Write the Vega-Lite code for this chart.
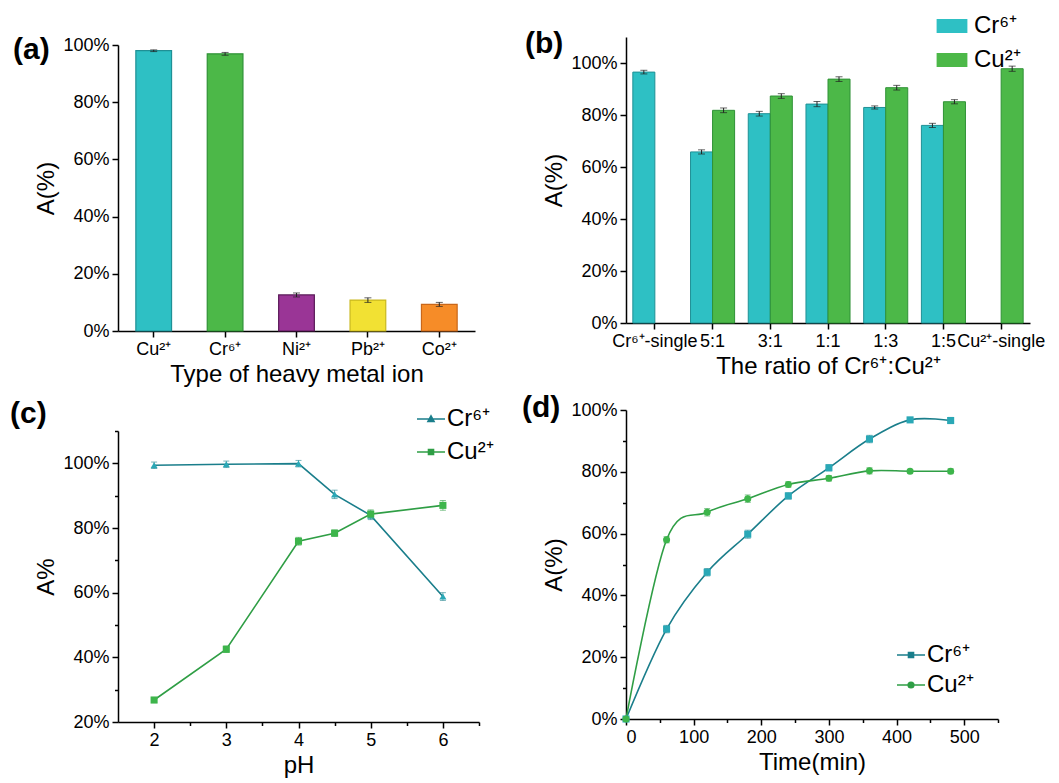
{
  "$schema": "https://vega.github.io/schema/vega-lite/v6.json",
  "padding": {"left": 10, "top": 12, "right": 5, "bottom": 5},
  "columns": 2,
  "align": "each",
  "spacing": {"row": 7, "column": 28},
  "resolve": {"scale": {"fill": "independent", "stroke": "independent", "color": "independent", "shape": "independent", "x": "independent", "y": "independent"}, "legend": {"fill": "independent", "color": "independent", "stroke": "independent", "shape": "independent"}},
  "config": {
    "view": {"stroke": null},
    "font": "Liberation Sans",
    "axis": {"labelFont": "Liberation Sans", "labelFontSize": 18, "labelColor": "#000", "titleFont": "Liberation Sans", "titleFontSize": 24, "titleFontWeight": "normal", "titleColor": "#000", "domainColor": "#000", "domainWidth": 1.5, "tickColor": "#000", "tickWidth": 1.5, "grid": false, "labelPadding": 3},
    "title": {"font": "Liberation Sans", "fontSize": 30, "fontWeight": "bold", "anchor": "start", "frame": "group", "color": "#000", "baseline": "top", "offset": 0},
    "legend": {"labelFont": "Liberation Sans", "labelFontSize": 24, "labelColor": "#000", "title": null}
  },
  "concat": [
    {
      "width": 357, "height": 294,
      "title": {"text": "(a)", "dx": -105, "dy": 33},
      "data": {"values": [
        {"ion": "Cu²⁺", "A": 98.0, "err": 0.3},
        {"ion": "Cr⁶⁺", "A": 96.9, "err": 0.5},
        {"ion": "Ni²⁺", "A": 12.6, "err": 0.7},
        {"ion": "Pb²⁺", "A": 10.8, "err": 0.8},
        {"ion": "Co²⁺", "A": 9.3, "err": 0.7}
      ]},
      "layer": [
        {
          "mark": {"type": "bar", "strokeWidth": 1.2},
          "encoding": {
            "x": {"field": "ion", "type": "nominal", "sort": null, "scale": {"paddingInner": 0.5, "paddingOuter": 0.25}, "axis": {"title": "Type of heavy metal ion", "labelAngle": 0, "tickSize": 6}},
            "y": {"field": "A", "type": "quantitative", "scale": {"domain": [0, 100], "range": [294, 8]}, "axis": {"title": "A(%)", "values": [0, 10, 20, 30, 40, 50, 60, 70, 80, 90, 100], "labelExpr": "datum.value % 20 === 0 ? datum.value + '%' : ''", "tickSize": {"condition": {"test": "datum.value % 20 === 0", "value": 6}, "value": 3.5}}},
            "fill": {"field": "ion", "type": "nominal", "sort": null, "scale": {"range": ["#2ec0c4", "#4cb848", "#9a3596", "#f2e133", "#f68c28"]}, "legend": null},
            "stroke": {"field": "ion", "type": "nominal", "sort": null, "scale": {"range": ["#1f9095", "#2f9236", "#5a1a58", "#c9b81e", "#c9671a"]}, "legend": null}
          }
        },
        {
          "mark": {"type": "errorbar", "ticks": {"size": 7}, "color": "#222", "thickness": 1},
          "encoding": {
            "x": {"field": "ion", "type": "nominal", "sort": null},
            "y": {"field": "A", "type": "quantitative", "title": "A(%)"},
            "yError": {"field": "err"}
          }
        }
      ]
    },
    {
      "width": 404, "height": 286,
      "title": {"text": "(b)", "dx": -101, "dy": 51},
      "data": {"values": [
        {"ratio": "Cr⁶⁺-single", "ion": "Cr⁶⁺", "A": 96.5, "err": 0.7},
        {"ratio": "5:1", "ion": "Cr⁶⁺", "A": 65.8, "err": 0.8},
        {"ratio": "5:1", "ion": "Cu²⁺", "A": 81.8, "err": 0.9},
        {"ratio": "3:1", "ion": "Cr⁶⁺", "A": 80.5, "err": 0.9},
        {"ratio": "3:1", "ion": "Cu²⁺", "A": 87.3, "err": 0.9},
        {"ratio": "1:1", "ion": "Cr⁶⁺", "A": 84.2, "err": 1.0},
        {"ratio": "1:1", "ion": "Cu²⁺", "A": 93.8, "err": 0.9},
        {"ratio": "1:3", "ion": "Cr⁶⁺", "A": 82.9, "err": 0.6},
        {"ratio": "1:3", "ion": "Cu²⁺", "A": 90.5, "err": 0.9},
        {"ratio": "1:5", "ion": "Cr⁶⁺", "A": 76.0, "err": 0.8},
        {"ratio": "1:5", "ion": "Cu²⁺", "A": 85.1, "err": 0.8},
        {"ratio": "Cu²⁺-single", "ion": "Cu²⁺", "A": 97.8, "err": 1.0}
      ]},
      "layer": [
        {
          "mark": {"type": "bar", "strokeWidth": 1},
          "encoding": {
            "x": {"field": "ratio", "type": "nominal", "sort": ["Cr⁶⁺-single", "5:1", "3:1", "1:1", "1:3", "1:5", "Cu²⁺-single"], "scale": {"paddingInner": 0, "paddingOuter": 0}, "axis": {"title": "The ratio of Cr⁶⁺:Cu²⁺", "labelAngle": 0, "tickSize": 6}},
            "xOffset": {"field": "ion", "type": "nominal", "sort": ["Cr⁶⁺", "Cu²⁺"], "scale": {"paddingInner": 0, "paddingOuter": 0.31}},
            "y": {"field": "A", "type": "quantitative", "scale": {"domain": [0, 110]}, "axis": {"title": "A(%)", "values": [0, 10, 20, 30, 40, 50, 60, 70, 80, 90, 100, 110], "labelExpr": "datum.value % 20 === 0 ? datum.value + '%' : ''", "tickSize": {"condition": {"test": "datum.value % 20 === 0", "value": 6}, "value": 3.5}}},
            "fill": {"field": "ion", "type": "nominal", "sort": ["Cr⁶⁺", "Cu²⁺"], "scale": {"range": ["#2ec0c4", "#4cb848"]}, "legend": {"orient": "none", "legendX": 312, "legendY": -25, "symbolType": "M-1.1,-0.5H1.1V0.5H-1.1Z", "symbolSize": 784, "symbolStrokeWidth": 0, "rowPadding": 8, "labelOffset": 8}},
            "stroke": {"field": "ion", "type": "nominal", "sort": ["Cr⁶⁺", "Cu²⁺"], "scale": {"range": ["#1f9095", "#2f9236"]}, "legend": null}
          }
        },
        {
          "mark": {"type": "errorbar", "ticks": {"size": 7}, "color": "#222", "thickness": 1},
          "encoding": {
            "x": {"field": "ratio", "type": "nominal", "sort": ["Cr⁶⁺-single", "5:1", "3:1", "1:1", "1:3", "1:5", "Cu²⁺-single"]},
            "xOffset": {"field": "ion", "type": "nominal", "sort": ["Cr⁶⁺", "Cu²⁺"]},
            "y": {"field": "A", "type": "quantitative", "title": "A(%)"},
            "yError": {"field": "err"}
          }
        }
      ]
    },
    {
      "width": 361, "height": 312,
      "title": {"text": "(c)", "dx": -108, "dy": 26},
      "data": {"values": [
        {"pH": 2, "ion": "Cr⁶⁺", "A": 99.4, "err": 1.0},
        {"pH": 3, "ion": "Cr⁶⁺", "A": 99.7, "err": 1.0},
        {"pH": 4, "ion": "Cr⁶⁺", "A": 99.9, "err": 1.0},
        {"pH": 4.5, "ion": "Cr⁶⁺", "A": 90.4, "err": 1.3},
        {"pH": 5, "ion": "Cr⁶⁺", "A": 83.9, "err": 1.3},
        {"pH": 6, "ion": "Cr⁶⁺", "A": 58.8, "err": 1.2},
        {"pH": 2, "ion": "Cu²⁺", "A": 26.8, "err": 0.8},
        {"pH": 3, "ion": "Cu²⁺", "A": 42.5, "err": 1.0},
        {"pH": 4, "ion": "Cu²⁺", "A": 75.9, "err": 1.2},
        {"pH": 4.5, "ion": "Cu²⁺", "A": 78.4, "err": 1.0},
        {"pH": 5, "ion": "Cu²⁺", "A": 84.3, "err": 1.3},
        {"pH": 6, "ion": "Cu²⁺", "A": 87.0, "err": 1.5}
      ]},
      "encoding": {
        "x": {"field": "pH", "type": "quantitative", "scale": {"domain": [1.5, 6.5], "nice": false, "zero": false}, "axis": {"title": "pH", "values": [2, 2.5, 3, 3.5, 4, 4.5, 5, 5.5, 6, 6.5], "labelExpr": "datum.value % 1 === 0 ? datum.value : ''", "tickSize": {"condition": {"test": "datum.value % 1 === 0", "value": 6}, "value": 3.5}}},
        "y": {"field": "A", "type": "quantitative", "scale": {"domain": [20, 110], "range": [312, 21], "nice": false, "zero": false}, "axis": {"title": "A%", "values": [20, 30, 40, 50, 60, 70, 80, 90, 100, 110], "labelExpr": "datum.value % 20 === 0 && datum.value <= 100 ? datum.value + '%' : ''", "tickSize": {"condition": {"test": "datum.value % 20 === 0", "value": 6}, "value": 3.5}}}
      },
      "layer": [
        {
          "mark": {"type": "line", "strokeWidth": 1.6},
          "encoding": {
            "color": {"field": "ion", "type": "nominal", "sort": ["Cr⁶⁺", "Cu²⁺"], "scale": {"range": ["#1a7e8b", "#2f9e45"]}, "legend": {"orient": "none", "legendX": 301, "legendY": -3, "symbolSize": 400, "symbolStrokeWidth": 1.6, "rowPadding": 9, "labelOffset": 4, "encode": {"symbols": {"update": {"shape": {"signal": "datum.value === 'Cr⁶⁺' ? 'M-1.4,0H1.4M-0.3,0.25L0,-0.3L0.3,0.25Z' : 'M-1.4,0H1.4M-0.25,-0.25H0.25V0.25H-0.25Z'"}, "fill": {"signal": "datum.value === 'Cr⁶⁺' ? '#2aa8b6' : '#3db54b'"}}}}}}
          }
        },
        {
          "mark": {"type": "errorbar", "ticks": {"size": 6}, "thickness": 1, "opacity": 0.6},
          "encoding": {
            "y": {"field": "A", "type": "quantitative", "title": "A%"},
            "yError": {"field": "err"},
            "color": {"field": "ion", "type": "nominal", "sort": ["Cr⁶⁺", "Cu²⁺"], "legend": null}
          }
        },
        {
          "mark": {"type": "point", "filled": true, "size": 50, "opacity": 1},
          "encoding": {
            "shape": {"field": "ion", "type": "nominal", "sort": ["Cr⁶⁺", "Cu²⁺"], "scale": {"range": ["triangle-up", "square"]}, "legend": null},
            "fill": {"field": "ion", "type": "nominal", "sort": ["Cr⁶⁺", "Cu²⁺"], "scale": {"range": ["#2aa8b6", "#3db54b"]}, "legend": null}
          }
        }
      ]
    },
    {
      "width": 372, "height": 309,
      "title": {"text": "(d)", "dx": -104, "dy": 26},
      "data": {"values": [
        {"t": 0, "ion": "Cr⁶⁺", "A": 0, "err": 0},
        {"t": 60, "ion": "Cr⁶⁺", "A": 29.1, "err": 1.2},
        {"t": 120, "ion": "Cr⁶⁺", "A": 47.5, "err": 1.2},
        {"t": 180, "ion": "Cr⁶⁺", "A": 59.8, "err": 1.3},
        {"t": 240, "ion": "Cr⁶⁺", "A": 72.2, "err": 1.0},
        {"t": 300, "ion": "Cr⁶⁺", "A": 81.3, "err": 1.0},
        {"t": 360, "ion": "Cr⁶⁺", "A": 90.6, "err": 1.2},
        {"t": 420, "ion": "Cr⁶⁺", "A": 96.8, "err": 0.8},
        {"t": 480, "ion": "Cr⁶⁺", "A": 96.6, "err": 1.0},
        {"t": 0, "ion": "Cu²⁺", "A": 0, "err": 0},
        {"t": 60, "ion": "Cu²⁺", "A": 58.0, "err": 1.0},
        {"t": 120, "ion": "Cu²⁺", "A": 66.9, "err": 1.2},
        {"t": 180, "ion": "Cu²⁺", "A": 71.3, "err": 1.2},
        {"t": 240, "ion": "Cu²⁺", "A": 75.9, "err": 0.9},
        {"t": 300, "ion": "Cu²⁺", "A": 77.9, "err": 0.9},
        {"t": 360, "ion": "Cu²⁺", "A": 80.3, "err": 1.0},
        {"t": 420, "ion": "Cu²⁺", "A": 80.2, "err": 0.6},
        {"t": 480, "ion": "Cu²⁺", "A": 80.2, "err": 0.8}
      ]},
      "encoding": {
        "x": {"field": "t", "type": "quantitative", "scale": {"domain": [0, 550], "nice": false}, "axis": {"title": "Time(min)", "values": [0, 50, 100, 150, 200, 250, 300, 350, 400, 450, 500, 550], "labelExpr": "datum.value % 100 === 0 ? datum.value : ''", "tickSize": {"condition": {"test": "datum.value % 100 === 0", "value": 6}, "value": 3.5}}},
        "y": {"field": "A", "type": "quantitative", "scale": {"domain": [0, 100], "nice": false}, "axis": {"title": "A(%)", "values": [0, 10, 20, 30, 40, 50, 60, 70, 80, 90, 100], "labelExpr": "datum.value % 20 === 0 ? datum.value + '%' : ''", "tickSize": {"condition": {"test": "datum.value % 20 === 0", "value": 6}, "value": 3.5}}}
      },
      "layer": [
        {
          "mark": {"type": "line", "strokeWidth": 1.6, "interpolate": "cardinal"},
          "encoding": {
            "color": {"field": "ion", "type": "nominal", "sort": ["Cr⁶⁺", "Cu²⁺"], "scale": {"range": ["#1a7e8b", "#2f9e45"]}, "legend": {"orient": "none", "legendX": 273, "legendY": 233, "symbolSize": 400, "symbolStrokeWidth": 1.6, "rowPadding": 6, "labelOffset": 4, "encode": {"symbols": {"update": {"shape": {"signal": "datum.value === 'Cr⁶⁺' ? 'M-1.4,0H1.4M-0.25,-0.25H0.25V0.25H-0.25Z' : 'M-1.4,0H1.4M-0.28,0A0.28,0.28,0,1,0,0.28,0A0.28,0.28,0,1,0,-0.28,0Z'"}, "fill": {"signal": "datum.value === 'Cr⁶⁺' ? '#2aa8b6' : '#3db54b'"}}}}}}
          }
        },
        {
          "mark": {"type": "errorbar", "ticks": {"size": 6}, "thickness": 1, "opacity": 0.6},
          "encoding": {
            "y": {"field": "A", "type": "quantitative", "title": "A(%)"},
            "yError": {"field": "err"},
            "color": {"field": "ion", "type": "nominal", "sort": ["Cr⁶⁺", "Cu²⁺"], "legend": null}
          }
        },
        {
          "mark": {"type": "point", "filled": true, "size": 50, "opacity": 1},
          "encoding": {
            "shape": {"field": "ion", "type": "nominal", "sort": ["Cr⁶⁺", "Cu²⁺"], "scale": {"range": ["square", "circle"]}, "legend": null},
            "fill": {"field": "ion", "type": "nominal", "sort": ["Cr⁶⁺", "Cu²⁺"], "scale": {"range": ["#2aa8b6", "#3db54b"]}, "legend": null}
          }
        }
      ]
    }
  ]
}
